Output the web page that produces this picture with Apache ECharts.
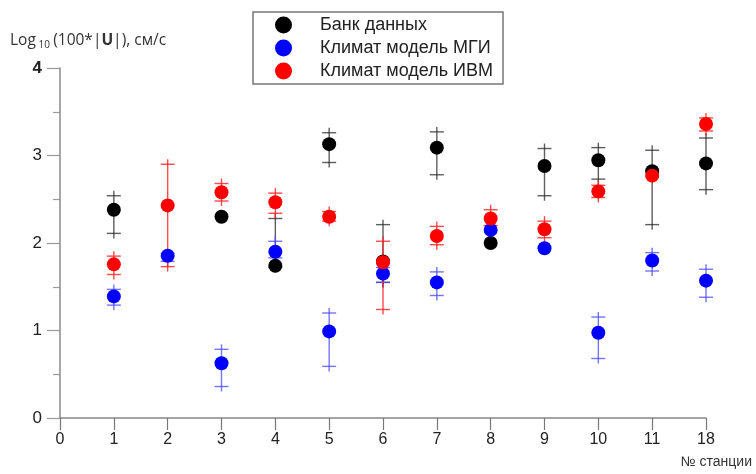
<!DOCTYPE html>
<html><head><meta charset="utf-8">
<script src="https://cdn.jsdelivr.net/npm/echarts@6/dist/echarts.min.js"></script>
<style>html,body{margin:0;padding:0;background:#fff}#c{width:756px;height:474px}</style>
</head><body><div id="c"></div>
<script>
const stations = ['0','1','2','3','4','5','6','7','8','9','10','11','18'];
const yTicks = [0, 1, 2, 3, 4];
// values for stations 1..11, 18 (index 1..12)
const bank     = [2.38, null, 2.30, 1.74, 3.13, 1.79, 3.09, 2.00, 2.88, 2.945, 2.82, 2.91];
const bankLow  = [2.11, null, null, 1.72, 2.92, 1.55, 2.78, null, 2.54, 2.73, 2.21, 2.61];
const bankHigh = [2.54, null, null, 2.28, 3.26, 2.21, 3.27, null, 3.08, 3.09, 3.06, 3.20];
const mgi      = [1.39, 1.855, 0.625, 1.90, 0.99, 1.65, 1.55, 2.15, 1.94, 0.975, 1.80, 1.57];
const mgiLow   = [1.29, 1.79, 0.36, 1.83, 0.59, 1.55, 1.40, null, null, 0.68, 1.68, 1.38];
const mgiHigh  = [1.47, 1.88, 0.785, 2.02, 1.20, 1.72, 1.67, null, null, 1.154, 1.89, 1.70];
const ivm      = [1.756, 2.43, 2.58, 2.465, 2.30, 1.78, 2.08, 2.28, 2.157, 2.59, 2.77, 3.36];
const ivmLow   = [1.64, 1.73, 2.48, 2.34, 2.25, 1.24, 1.98, 2.20, 2.06, 2.52, null, 3.28];
const ivmHigh  = [1.85, 2.90, 2.68, 2.57, 2.36, 2.02, 2.19, 2.38, 2.25, 2.66, null, 3.43];

function pts(vals){ const r=[]; vals.forEach((v,i)=>{ if(v!=null) r.push([i+1, v]); }); return r; }
function errs(lo, hi){ const r=[]; lo.forEach((v,i)=>{ if(v!=null && hi[i]!=null) r.push([i+1, v, hi[i]]); }); return r; }

function errSeries(name, data, color, dot){
  return {
    type:'custom', name:name, data:data, silent:true, z:2,
    itemStyle:{color:dot},
    renderItem:function(params, api){
      const x = api.value(0);
      const lo = api.coord([x, api.value(1)]);
      const hi = api.coord([x, api.value(2)]);
      const w = 7, ext = 5;
      const st = {stroke:color, lineWidth:1.4, fill:null};
      return {type:'group', children:[
        {type:'line', shape:{x1:lo[0], y1:lo[1]+ext, x2:hi[0], y2:hi[1]-ext}, style:st},
        {type:'line', shape:{x1:lo[0]-w, y1:lo[1], x2:lo[0]+w, y2:lo[1]}, style:st},
        {type:'line', shape:{x1:hi[0]-w, y1:hi[1], x2:hi[0]+w, y2:hi[1]}, style:st}
      ]};
    },
    encode:{x:0, y:[1,2]}
  };
}
function dotSeries(name, data, color){
  return {type:'scatter', name:name, data:data, symbol:'circle', symbolSize:14,
    itemStyle:{color:color, opacity:1}, z:3};
}

const chart = echarts.init(document.getElementById('c'), null, {renderer:'canvas'});
chart.setOption({
  animation:false,
  backgroundColor:'#fff',
  grid:{left:60, right:50, top:68, bottom:56},
  legend:{
    orient:'vertical', left:253, top:12,
    padding:[4, 10, 4, 22], itemGap:5, itemWidth:17, itemHeight:17,
    borderColor:'#777', borderWidth:1.5,
    textStyle:{fontSize:18, color:'#222', fontFamily:'Liberation Sans, Arial, sans-serif', padding:[0,0,0,23]},
    data:[
      {name:'Банк данных', icon:'circle', itemStyle:{color:'#000000'}},
      {name:'Климат модель МГИ', icon:'circle', itemStyle:{color:'#0000ff'}},
      {name:'Климат модель ИВМ', icon:'circle', itemStyle:{color:'#ff0000'}}
    ]
  },
  xAxis:{
    type:'category', data:stations, boundaryGap:false,
    axisLine:{lineStyle:{color:'#888', width:1.5}},
    axisTick:{show:true, length:12, lineStyle:{color:'#777', width:1.2}},
    axisLabel:{fontSize:16, color:'#222', margin:14, fontFamily:'Liberation Sans Narrow, Arial Narrow, Liberation Sans, sans-serif'},
    splitLine:{show:false}
  },
  yAxis:{
    type:'value', min:0, max:4, interval:1,
    axisLine:{show:true, lineStyle:{color:'#888', width:1.5}},
    axisTick:{show:true, length:13, lineStyle:{color:'#999', width:1.2}},
    minorTick:{show:true, splitNumber:2, length:7, lineStyle:{color:'#999', width:1.2}},
    axisLabel:{fontSize:17, color:'#222', margin:18, fontFamily:'Liberation Sans, Arial, sans-serif',
      formatter:function(v){ return v===yTicks[yTicks.length-1] ? '{b|'+v+'}' : String(v); },
      rich:{b:{fontSize:17, fontWeight:'bold', color:'#222', fontFamily:'Liberation Sans, Arial, sans-serif'}}},
    splitLine:{show:false}
  },
  graphic:[
    {type:'text', left:10, top:33, style:{
      text:'{n|Log}{s| 10} {n|(100*|}{b|U}{n||), см/с}',
      rich:{
        n:{fontSize:15.5, fill:'#333', fontFamily:'Open Sans, Liberation Sans, sans-serif'},
        s:{fontSize:10, fill:'#333', padding:[8,0,0,0], fontFamily:'Open Sans, Liberation Sans, sans-serif'},
        b:{fontSize:15.5, fill:'#333', fontWeight:'bold', fontFamily:'Open Sans, Liberation Sans, sans-serif'}
      }}},
    {type:'text', right:4, top:455, style:{
      text:'№ станции', fontSize:14, fill:'#333',
      fontFamily:'Liberation Sans Narrow, Arial Narrow, Liberation Sans, sans-serif'}}
  ],
  series:[
    errSeries('Банк данных', errs(bankLow, bankHigh), 'rgba(40,40,40,0.75)', '#000000'),
    dotSeries('Банк данных', pts(bank), '#000000'),
    errSeries('Климат модель МГИ', errs(mgiLow, mgiHigh), 'rgba(70,70,255,0.75)', '#0000ff'),
    dotSeries('Климат модель МГИ', pts(mgi), '#0000ff'),
    errSeries('Климат модель ИВМ', errs(ivmLow, ivmHigh), 'rgba(255,30,30,0.8)', '#ff0000'),
    dotSeries('Климат модель ИВМ', pts(ivm), '#ff0000')
  ]
});
</script></body></html>
